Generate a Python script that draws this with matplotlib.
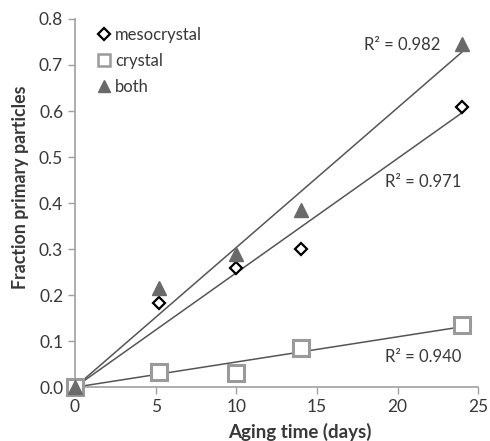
import numpy as np
import matplotlib
matplotlib.use("Agg")
import matplotlib.pyplot as plt

plt.rcParams['font.family'] = ['Lato', 'DejaVu Sans']

# data
days = [0, 5.2, 10, 14, 24]
meso = [0, 0.182, 0.26, 0.30, 0.608]
crystal = [0, 0.032, 0.031, 0.086, 0.135]
both = [0, 0.215, 0.29, 0.385, 0.745]
r2_labels = ["R² = 0.971", "R² = 0.940", "R² = 0.982"]
x_ticks = [0, 5, 10, 15, 20, 25]
y_ticks = [0.0, 0.1, 0.2, 0.3, 0.4, 0.5, 0.6, 0.7, 0.8]

text_col = "#383838"
axis_col = "#a0a0a0"


def origin_fit(x, y):
    x = np.asarray(x, float)
    y = np.asarray(y, float)
    return (x * y).sum() / (x * x).sum()


fig = plt.figure(figsize=(4.9, 4.41), dpi=100)
ax = fig.add_axes([0.153, 0.122, 0.823, 0.835])

# trend lines (intercept fixed at zero)
xs = np.array([0, 24])
for ys in (meso, crystal, both):
    k = origin_fit(days, ys)
    ax.plot(xs, k * xs, color="#555555", lw=1.1, zorder=2)

ax.plot(days, meso, ls="none", marker="D", ms=6, mfc="white", mec="black",
        mew=1.6, label="mesocrystal", zorder=3, clip_on=False)
ax.plot(days, crystal, ls="none", marker="s", ms=11, mfc="white", mec="#9a9a9a",
        mew=2.2, label="crystal", zorder=3, clip_on=False)
ax.plot(days, both, ls="none", marker="^", ms=10, color="#6a6a6a",
        label="both", zorder=4, clip_on=False)

ax.text(20.3, 0.743, r2_labels[2], fontsize=12, color=text_col, ha="center", va="center")
ax.text(21.6, 0.446, r2_labels[0], fontsize=12, color=text_col, ha="center", va="center")
ax.text(21.6, 0.065, r2_labels[1], fontsize=12, color=text_col, ha="center", va="center")

ax.set_xlim(0, 25)
ax.set_ylim(0, 0.8)
ax.set_xticks(x_ticks)
ax.set_yticks(y_ticks)
ax.set_yticklabels([f"{v:.1f}" for v in y_ticks])
ax.set_xticklabels([str(v) for v in x_ticks])
ax.spines[['top', 'right']].set_visible(False)
for s in ('left', 'bottom'):
    ax.spines[s].set_color(axis_col)
    ax.spines[s].set_linewidth(1.2)
ax.tick_params(colors=axis_col, labelcolor=text_col, labelsize=12.5, length=5, width=1.0)
ax.set_xlabel("Aging time (days)", fontsize=13.5, fontweight="bold", color=text_col)
ax.set_ylabel("Fraction primary particles", fontsize=12.8, fontweight="bold", color=text_col,
              va="center")
ax.xaxis.set_label_coords(0.558, -0.098)
ax.yaxis.set_label_coords(-0.136, 0.543)

leg = ax.legend(loc="upper left", bbox_to_anchor=(0.015, 1.02), frameon=False, fontsize=12,
                handletextpad=0.15, handlelength=1.0, labelspacing=0.62, labelcolor=text_col)
for h, s in zip(leg.legend_handles, [6, 8.5, 8.5]):
    h.set_markersize(s)
leg.legend_handles[1].set_markeredgewidth(1.8)

fig.savefig("out.png", dpi=100)
